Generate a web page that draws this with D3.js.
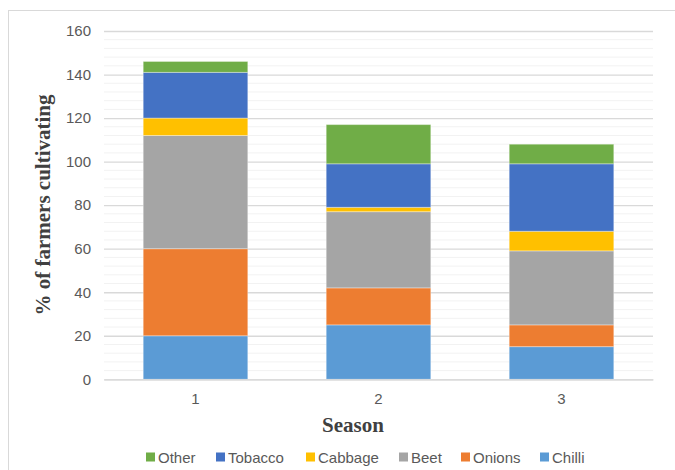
<!DOCTYPE html>
<html>
<head>
<meta charset="utf-8">
<script src="https://cdn.jsdelivr.net/npm/d3@7"></script>
<style>
  html, body { margin: 0; padding: 0; background: #fff; }
  svg { display: block; }
</style>
</head>
<body>
<svg id="chart" width="675" height="470"></svg>
<script>
// Seasons on the x axis
const seasons = ["1", "2", "3"];
// Crop series, stacked bottom to top
const crops = ["Chilli", "Onions", "Beet", "Cabbage", "Tobacco", "Other"];
const chilli  = [20, 25, 15];
const onions  = [40, 17, 10];
const beet    = [52, 35, 34];
const cabbage = [8, 2, 9];
const tobacco = [21, 20, 31];
const other   = [5, 18, 9];
const cropColors = ["#5B9BD5", "#ED7D31", "#A5A5A5", "#FFC000", "#4472C4", "#70AD47"];
// Legend is listed in reverse stacking order
const legendOrder = ["Other", "Tobacco", "Cabbage", "Beet", "Onions", "Chilli"];
const yTicks = [0, 20, 40, 60, 80, 100, 120, 140, 160];

const seriesValues = [chilli, onions, beet, cabbage, tobacco, other];
const rows = seasons.map((s, i) => {
  const r = { season: s };
  crops.forEach((c, k) => { r[c] = seriesValues[k][i]; });
  return r;
});

const svg = d3.select("#chart");
const textColor = "#595959";
const plotLeft = 104, plotRight = 653, plotTop = 31, plotBottom = 379.3;

// Outer chart frame
svg.append("rect")
  .attr("x", 8.5).attr("y", 10.5)
  .attr("width", 700).attr("height", 500)
  .attr("fill", "none").attr("stroke", "#D9D9D9").attr("stroke-width", 1);

const x = d3.scaleBand().domain(seasons).range([plotLeft, plotRight])
  .paddingInner(0.75 / 1.75).paddingOuter(0.75 / 3.5);
const y = d3.scaleLinear().domain([0, 160]).range([plotBottom, plotTop]);
const color = d3.scaleOrdinal().domain(crops).range(cropColors);

// Minor gridlines
const minor = d3.range(4, 160, 4).filter(v => v % 20 !== 0);
svg.append("g").selectAll("line").data(minor).join("line")
  .attr("x1", plotLeft).attr("x2", plotRight)
  .attr("y1", d => y(d)).attr("y2", d => y(d))
  .attr("stroke", "#F2F2F2").attr("stroke-width", 1);

// Major gridlines and tick labels
const yAxis = d3.axisLeft(y).tickValues(yTicks).tickSize(-(plotRight - plotLeft)).tickPadding(13);
const gy = svg.append("g").attr("transform", `translate(${plotLeft},0)`).call(yAxis);
gy.select(".domain").remove();
gy.selectAll(".tick line").attr("stroke", "#D9D9D9").attr("stroke-width", 1.3);
gy.selectAll(".tick text")
  .attr("fill", textColor)
  .style("font-family", "'Liberation Sans', Arial, sans-serif")
  .style("font-size", "15px");

// Stacked bars
const stack = d3.stack().keys(crops)(rows);
svg.append("g").selectAll("g").data(stack).join("g")
  .attr("fill", d => color(d.key))
  .selectAll("rect").data(d => d).join("rect")
  .attr("x", d => x(d.data.season))
  .attr("width", x.bandwidth())
  .attr("y", d => y(d[1]))
  .attr("height", d => y(d[0]) - y(d[1]))
  .attr("stroke", "#ffffff").attr("stroke-opacity", 0.35).attr("stroke-width", 1);

// X axis
const xAxis = d3.axisBottom(x).tickSize(0).tickPadding(14);
const gx = svg.append("g").attr("transform", `translate(0,${plotBottom})`).call(xAxis);
gx.select(".domain").attr("stroke", "#D9D9D9").attr("stroke-width", 1.3);
gx.selectAll(".tick text")
  .attr("fill", textColor)
  .style("font-family", "'Liberation Sans', Arial, sans-serif")
  .style("font-size", "15px");

// Axis titles
svg.append("text")
  .attr("x", 353).attr("y", 432)
  .attr("text-anchor", "middle")
  .attr("fill", "#404040")
  .style("font-family", "'Liberation Serif', 'Times New Roman', serif")
  .style("font-weight", "bold").style("font-size", "21px")
  .text("Season");

svg.append("text")
  .attr("transform", "translate(43,205) rotate(-90)")
  .attr("text-anchor", "middle").attr("dominant-baseline", "central")
  .attr("fill", "#404040")
  .style("font-family", "'Liberation Serif', 'Times New Roman', serif")
  .style("font-weight", "bold").style("font-size", "21px")
  .text("% of farmers cultivating");

// Legend
const legendX = [146, 216, 306, 399, 461, 540];
const legend = svg.append("g").selectAll("g").data(legendOrder).join("g")
  .attr("transform", (d, i) => `translate(${legendX[i]},457)`);
legend.append("rect")
  .attr("x", 0).attr("y", -4.5).attr("width", 9).attr("height", 9)
  .attr("fill", d => color(d));
legend.append("text")
  .attr("x", 12).attr("y", 0).attr("dominant-baseline", "central")
  .attr("fill", textColor)
  .style("font-family", "'Liberation Sans', Arial, sans-serif")
  .style("font-size", "15px")
  .text(d => d);
</script>
</body>
</html>
